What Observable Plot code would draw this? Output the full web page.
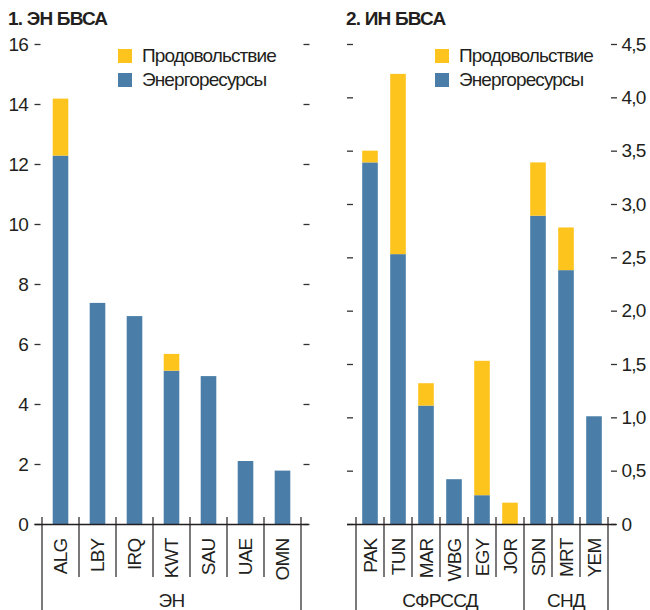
<!DOCTYPE html>
<html><head><meta charset="utf-8">
<script src="https://cdn.jsdelivr.net/npm/d3@7"></script>
<script src="https://cdn.jsdelivr.net/npm/@observablehq/plot@0.6"></script>
<style>
html,body{margin:0;padding:0;background:#fff;}
#root{position:relative;width:650px;height:610px;overflow:hidden;font-family:"Liberation Sans Narrow","Liberation Sans",Arial,sans-serif;color:#231f20;}
.panel{position:absolute;top:0;}
.title{position:absolute;top:8px;font-weight:bold;font-size:19px;letter-spacing:-0.8px;line-height:22px;white-space:nowrap;}
.legend{position:absolute;top:44px;font-size:19px;letter-spacing:-0.9px;line-height:24px;white-space:nowrap;}
.legend div{display:flex;align-items:center;height:24px;}
.legend span.sw{display:inline-block;width:14px;height:14px;margin-right:10px;}
svg text{font-family:"Liberation Sans Narrow","Liberation Sans",Arial,sans-serif;letter-spacing:-0.8px;}
</style></head>
<body><div id="root"></div>
<script>
// ---- data ----
const seriesNames = ["Энергоресурсы", "Продовольствие"];
const seriesColors = ["#4a7ea8", "#fec41e"];

const leftTitle = "1. ЭН БВСА";
const leftCats = ["ALG", "LBY", "IRQ", "KWT", "SAU", "UAE", "OMN"];
const leftGroups = ["ЭН", "ЭН", "ЭН", "ЭН", "ЭН", "ЭН", "ЭН"];
const leftEnergy = [12.28, 7.37, 6.93, 5.11, 4.93, 2.1, 1.78];
const leftFood = [1.9, 0, 0, 0.56, 0, 0, 0];
const leftTicks = [0, 2, 4, 6, 8, 10, 12, 14, 16];

const rightTitle = "2. ИН БВСА";
const rightCats = ["PAK", "TUN", "MAR", "WBG", "EGY", "JOR", "SDN", "MRT", "YEM"];
const rightGroups = ["СФРССД", "СФРССД", "СФРССД", "СФРССД", "СФРССД", "СФРССД", "СНД", "СНД", "СНД"];
const rightEnergy = [3.39, 2.53, 1.11, 0.42, 0.27, 0, 2.89, 2.38, 1.01];
const rightFood = [0.11, 1.69, 0.21, 0, 1.26, 0.2, 0.5, 0.4, 0];
const rightTicks = [0, 0.5, 1, 1.5, 2, 2.5, 3, 3.5, 4, 4.5];

const ink = "#231f20";
const FS = 19;

function rows(cats, energy, food) {
  const out = [];
  cats.forEach((c, i) => {
    out.push({cat: c, type: seriesNames[0], value: energy[i]});
    out.push({cat: c, type: seriesNames[1], value: food[i]});
  });
  return out;
}

function separators(cats, groups) {
  return (index, scales, values, dims) => {
    const x = scales.x, y = scales.y;
    const step = x(cats[1]) - x(cats[0]);
    const y0 = y(0);
    const g = d3.create("svg:g").attr("stroke", ink).attr("stroke-width", 1.2);
    for (let i = 0; i <= cats.length; i++) {
      const bx = i < cats.length ? x(cats[i]) : x(cats[cats.length - 1]) + step;
      const outer = i === 0 || i === cats.length || groups[i] !== groups[i - 1];
      g.append("line").attr("x1", bx).attr("x2", bx)
        .attr("y1", y0 - 7).attr("y2", outer ? dims.height : y0 + 53);
    }
    const uniq = [...new Set(groups)];
    uniq.forEach(gr => {
      const idx = groups.map((d, i) => d === gr ? i : -1).filter(i => i >= 0);
      const a = x(cats[idx[0]]), b = x(cats[idx[idx.length - 1]]) + step;
      g.append("text").attr("x", (a + b) / 2).attr("y", y0 + 76)
        .attr("text-anchor", "middle").attr("dy", "0.35em")
        .attr("fill", ink).attr("stroke", "none").attr("font-size", FS)
        .text(gr);
    });
    return g.node();
  };
}

function panel({cats, groups, energy, food, ticks, max, width, ml, mr, inset, leftLabels, fmt}) {
  const data = rows(cats, energy, food);
  const marks = [
    Plot.barY(data, Plot.stackY({x: "cat", y: "value", fill: "type", order: seriesNames, insetLeft: inset, insetRight: inset})),
    Plot.axisY(ticks, {anchor: "left", label: null, tickSize: 6, tickPadding: leftLabels ? 7 : 0, tickFormat: leftLabels ? fmt : () => "", stroke: "#333", strokeWidth: 1.3, fontSize: FS, fill: ink}),
    Plot.axisY(ticks, {anchor: "right", label: null, tickSize: 6, tickPadding: 5, tickFormat: leftLabels ? () => "" : fmt, stroke: "#333", strokeWidth: 1.3, fontSize: FS, fill: ink}),
    Plot.text(cats, {x: d => d, frameAnchor: "bottom", dy: 14, rotate: -90, textAnchor: "end", lineAnchor: "middle", fontSize: FS, fill: ink}),
    Plot.ruleY([0], {stroke: ink, strokeWidth: 1.3, insetLeft: -6, insetRight: -6}),
    separators(cats, groups)
  ];
  return Plot.plot({
    width, height: 610,
    marginLeft: ml, marginRight: mr, marginTop: 44, marginBottom: 86,
    x: {domain: cats, padding: 0, axis: null},
    y: {domain: [0, max], axis: null},
    color: {domain: seriesNames, range: seriesColors},
    style: {background: "transparent", color: ink, fontSize: FS + "px", overflow: "visible"},
    marks
  });
}

const root = document.getElementById("root");
const fmtL = d => String(d);
const fmtR = d => d === 0 ? "0" : d.toFixed(1).replace(".", ",");

const p1 = panel({cats: leftCats, groups: leftGroups, energy: leftEnergy, food: leftFood, ticks: leftTicks, max: 16, width: 325, ml: 40.5, mr: 22.5, inset: 10.7, leftLabels: true, fmt: fmtL});
const d1 = document.createElement("div"); d1.className = "panel"; d1.style.left = "0px"; d1.appendChild(p1); root.appendChild(d1);

const p2 = panel({cats: rightCats, groups: rightGroups, energy: rightEnergy, food: rightFood, ticks: rightTicks, max: 4.5, width: 325, ml: 28, mr: 40, inset: 6.2, leftLabels: false, fmt: fmtR});
const d2 = document.createElement("div"); d2.className = "panel"; d2.style.left = "325px"; d2.appendChild(p2); root.appendChild(d2);

function addTitle(text, left) {
  const t = document.createElement("div"); t.className = "title"; t.style.left = left + "px"; t.textContent = text; root.appendChild(t);
}
function addLegend(left) {
  const l = document.createElement("div"); l.className = "legend"; l.style.left = left + "px";
  [1, 0].forEach(i => {
    const row = document.createElement("div");
    const sw = document.createElement("span"); sw.className = "sw"; sw.style.background = seriesColors[i];
    row.appendChild(sw); row.appendChild(document.createTextNode(seriesNames[i]));
    l.appendChild(row);
  });
  root.appendChild(l);
}
addTitle(leftTitle, 8);
addTitle(rightTitle, 346);
addLegend(118);
addLegend(435);
</script></body></html>
